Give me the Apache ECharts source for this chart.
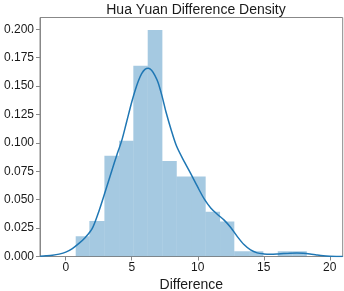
<!DOCTYPE html>
<html>
<head>
<meta charset="utf-8">
<script src="https://cdn.jsdelivr.net/npm/echarts@6/dist/echarts.min.js"></script>
<style>
html,body{margin:0;padding:0;background:#fff;}
#chart{width:344px;height:291px;}
</style>
</head>
<body>
<div id="chart"></div>
<script>
// Histogram bins (left edge, right edge) and densities
var binLeft  = [0.755, 1.79, 2.93, 4.04, 5.12, 6.21, 7.32, 8.41, 9.49, 10.6, 11.69, 12.77, 13.89, 14.97, 16.06, 17.17];
var binRight = [1.79, 2.93, 4.04, 5.12, 6.21, 7.32, 8.41, 9.49, 10.6, 11.69, 12.77, 13.89, 14.97, 16.06, 17.17, 18.26];
var binDensity = [0.0178, 0.0312, 0.0887, 0.102, 0.168, 0.1994, 0.0840, 0.0705, 0.0705, 0.0394, 0.0308, 0.0046, 0.0046, 0.0, 0.0046, 0.0046];

// KDE curve samples
var kdeX = [-1.94, -1.5, -1, -0.5, 0, 0.5, 1, 1.5, 2, 2.5, 3, 3.5, 3.86, 4.24, 4.6, 5.0, 5.25, 5.5, 5.75, 6.0, 6.25, 6.5, 6.75, 7.0, 7.3, 7.6, 8.0, 8.4, 9.0, 9.42, 10.0, 10.5, 11.0, 11.5, 12.0, 12.5, 13.0, 13.5, 14.0, 14.5, 15.0, 15.5, 16.0, 16.5, 17.0, 17.5, 18.0, 18.5, 19.0, 19.5, 20.0, 20.5, 20.98];
var kdeY = [0.0003, 0.0006, 0.0011, 0.0021, 0.0038, 0.0070, 0.0115, 0.0170, 0.0245, 0.0395, 0.0575, 0.0760, 0.0890, 0.1020, 0.1180, 0.1360, 0.1460, 0.1545, 0.1610, 0.1648, 0.1657, 0.1640, 0.1595, 0.1530, 0.1410, 0.1270, 0.1110, 0.0970, 0.0830, 0.0740, 0.0610, 0.0505, 0.0425, 0.0370, 0.0320, 0.0255, 0.0175, 0.0105, 0.0058, 0.0032, 0.0023, 0.0020, 0.0022, 0.0026, 0.0029, 0.0030, 0.0028, 0.0022, 0.0014, 0.0007, 0.0003, 0.0001, 0.00003];

// Tick labels
var xTicks = [0, 5, 10, 15, 20];
var yTicks = [0, 0.025, 0.05, 0.075, 0.1, 0.125, 0.15, 0.175, 0.2];

var histData = binLeft.map(function (l, i) { return [l, binRight[i], binDensity[i]]; });
var kdeData = kdeX.map(function (x, i) { return [x, kdeY[i]]; });

var FONT = 'Liberation Sans, Arial, sans-serif';
var SPINE = '#888888';

var chart = echarts.init(document.getElementById('chart'), null, {renderer: 'canvas'});
chart.setOption({
  animation: false,
  backgroundColor: '#ffffff',
  title: {
    text: 'Hua Yuan Difference Density',
    left: 191, top: -2, textAlign: 'center',
    textStyle: {fontFamily: FONT, fontSize: 14, fontWeight: 'normal', color: '#1a1a1a'}
  },
  grid: {
    left: 40, top: 17.5, right: 1.3, bottom: 34.5,
    containLabel: false, outerBoundsMode: 'none',
    show: true, borderColor: SPINE, borderWidth: 1, backgroundColor: 'transparent'
  },
  xAxis: {
    type: 'value', min: -1.95, max: 20.98,
    name: 'Difference', nameLocation: 'middle', nameGap: 17,
    nameTextStyle: {fontFamily: FONT, fontSize: 14, color: '#1a1a1a'},
    axisLine: {show: true, onZero: false, lineStyle: {color: SPINE, width: 1}},
    axisTick: {show: true, length: 4, lineStyle: {color: SPINE}, customValues: xTicks},
    axisLabel: {fontFamily: FONT, fontSize: 12, color: '#1a1a1a', margin: 5, customValues: xTicks,
      formatter: function (v) { return String(v); }},
    splitLine: {show: false}
  },
  yAxis: {
    type: 'value', min: 0, max: 0.2104,
    axisLine: {show: true, onZero: false, lineStyle: {color: SPINE, width: 1}},
    axisTick: {show: true, length: 4, lineStyle: {color: SPINE}, customValues: yTicks},
    axisLabel: {fontFamily: FONT, fontSize: 12, color: '#1a1a1a', margin: 6, customValues: yTicks,
      formatter: function (v) { return v.toFixed(3); }},
    splitLine: {show: false}
  },
  series: [
    {
      type: 'custom',
      data: histData,
      encode: {x: [0, 1], y: 2},
      clip: true,
      renderItem: function (params, api) {
        var p0 = api.coord([api.value(0), api.value(2)]);
        var p1 = api.coord([api.value(1), 0]);
        return {
          type: 'rect',
          shape: {x: p0[0], y: p0[1], width: p1[0] - p0[0], height: p1[1] - p0[1]},
          style: {fill: 'rgba(31,119,180,0.4)'}
        };
      },
      z: 1
    },
    {
      type: 'line',
      data: kdeData,
      smooth: 0.3,
      showSymbol: false,
      lineStyle: {color: '#1f77b4', width: 1.5},
      z: 2
    }
  ]
});
</script>
</body>
</html>
